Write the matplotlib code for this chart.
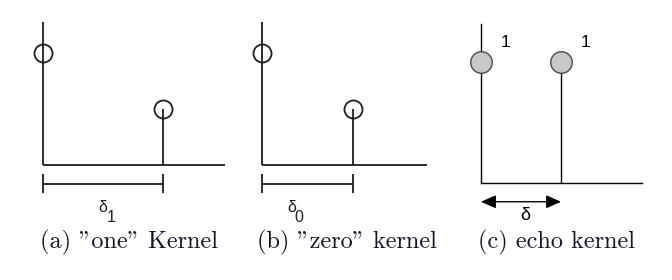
import matplotlib
matplotlib.use("Agg")
from matplotlib import pyplot as plt

W, H = 672, 280

# impulse positions (in units of the delay) and amplitudes
one_t = [0, 1]
one_a = [1.0, 0.5]
zero_t = [0, 1]
zero_a = [1.0, 0.5]
echo_t = [0, 1]
echo_a = [1.0, 1.0]

captions = ['(a) "one" Kernel', '(b) "zero" kernel', '(c) echo kernel']
delay_labels = ['1', '0']

ink = '#1e1e1e'
cap_font = ['cmr10', 'DejaVu Serif']
sans = ['Liberation Sans', 'DejaVu Sans']

fig = plt.figure(figsize=(W / 100, H / 100), dpi=100)
fig.patch.set_facecolor('white')


def panel(x0, y0, sx, sy):
    # full-figure axes, origin at pixel (x0, y0), sx/sy pixels per unit
    ax = fig.add_axes([0, 0, 1, 1])
    ax.set_xlim(-x0 / sx, (W - x0) / sx)
    ax.set_ylim((y0 - H) / sy, y0 / sy)
    ax.axis('off')
    ax.patch.set_alpha(0)
    return ax


def sketch_kernel(ax, t, a, top, right, sub, lab_x):
    ax.plot([0, 0], [0, top], color=ink, lw=1.3, solid_capstyle='butt')
    ax.plot([0, right], [0, 0], color=ink, lw=1.3, solid_capstyle='butt')
    ax.vlines(t[1:], 0, a[1:], color=ink, lw=1.3)
    ax.plot(t, a, 'o', mfc='none', mec=ink, mew=1.3, ms=13, zorder=3)
    # bracket showing the delay
    ax.plot([0, t[1]], [-0.17, -0.17], color=ink, lw=1.3)
    ax.vlines([0, t[1]], -0.08, -0.25, color=ink, lw=1.3)
    ax.text(lab_x, -0.375, '\u03b4', family=sans, fontsize=11.5,
            ha='center', va='center', color=ink)
    ax.text(lab_x + 0.07, -0.465, sub, family=sans, fontsize=11.5,
            ha='center', va='center', color=ink)


ax_a = panel(43, 165, 120, 112)
sketch_kernel(ax_a, one_t, one_a, 1.28, 1.52, delay_labels[0], 0.5)

ax_b = panel(262, 165, 91, 112)
sketch_kernel(ax_b, zero_t, zero_a, 1.28, 1.81, delay_labels[1], 0.33)

ax_c = panel(481, 183, 80, 121)
ax_c.plot([0, 0], [0, 1.31], color='black', lw=1.0)
ax_c.plot([0, 2.01], [0, 0], color='black', lw=1.0)
ax_c.vlines(echo_t[1:], 0, echo_a[1:], color='black', lw=1.0)
ax_c.plot(echo_t, echo_a, 'o', mfc='#c8c8c8', mec='#4a4a40', mew=1.0,
          ms=15.5, zorder=3)
for t, a in zip(echo_t, echo_a):
    ax_c.text(t + 0.3, a + 0.165, '%g' % a, family=sans, fontsize=12.5,
              ha='center', va='center', color='black')
ax_c.annotate('', xy=(0, -0.155), xytext=(echo_t[1], -0.155),
              arrowprops=dict(arrowstyle='<|-|>,head_length=0.9,head_width=0.4',
                              color='black', lw=1.0, shrinkA=0, shrinkB=0,
                              mutation_scale=10))
ax_c.text(0.55, -0.265, '\u03b4', family=sans, fontsize=13, ha='center',
          va='center', color='black')

for x, s in zip([129, 347, 556], captions):
    fig.text(x / W, 1 - 242 / H, s, family=cap_font, fontsize=17.5,
             ha='center', va='center', color='#14142a')

fig.savefig('out.png', dpi=100, facecolor='white')
